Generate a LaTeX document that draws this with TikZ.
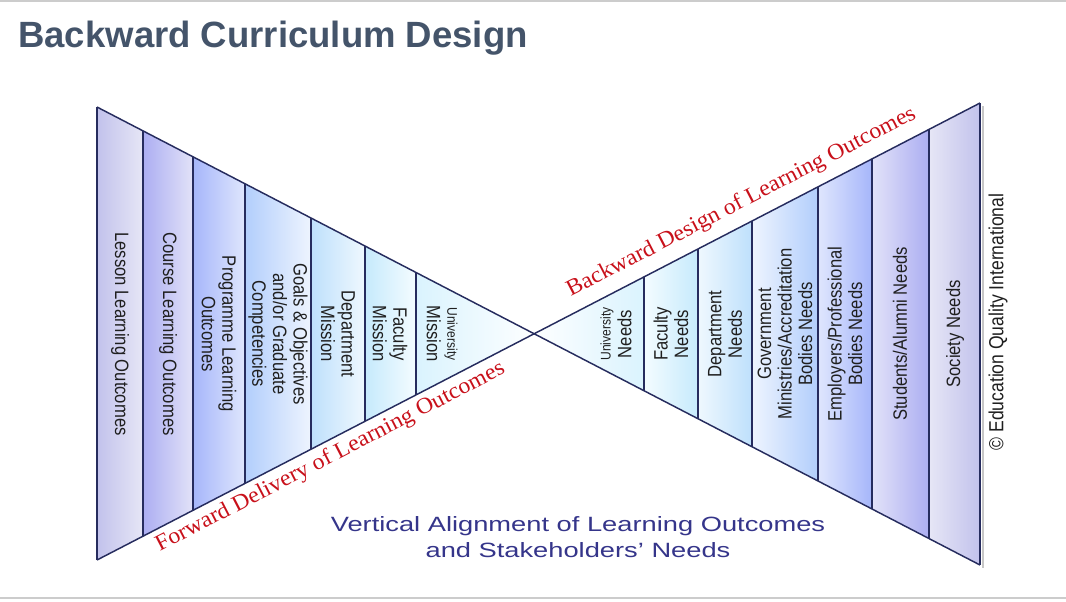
\documentclass[tikz,border=0pt]{standalone}
\usepackage{fontspec}
\setmainfont{Liberation Sans}
\newfontfamily\bandfont[FakeStretch=0.86]{Liberation Sans}
\newfontfamily\widefont[FakeStretch=1.32]{Liberation Sans}
\newfontfamily\redserif[FakeStretch=1.05]{Liberation Serif}
\usepackage{tikz}

\definecolor{navyline}{HTML}{262C5E}
\definecolor{titlegray}{HTML}{44546A}
\definecolor{redlabel}{HTML}{C8101A}
\definecolor{captionblue}{HTML}{35358A}
\definecolor{lesD}{HTML}{C2C2EC}\definecolor{lesL}{HTML}{E6E6F6}
\definecolor{crsD}{HTML}{ACAEF2}\definecolor{crsL}{HTML}{E2E2F8}
\definecolor{prgD}{HTML}{A6B6FA}\definecolor{prgL}{HTML}{DFE6FD}
\definecolor{golD}{HTML}{B2CEFC}\definecolor{golL}{HTML}{EEF4FE}
\definecolor{depD}{HTML}{BEE0FC}\definecolor{depL}{HTML}{EFF8FE}
\definecolor{facD}{HTML}{C6EAFC}\definecolor{facL}{HTML}{F4FCFF}
\definecolor{uniD}{HTML}{DAF3FE}\definecolor{uniL}{HTML}{FFFFFF}

\tikzset{
  edge/.style={draw=navyline, line width=1.1pt},
  sep/.style={draw=navyline, line width=1.5pt},
  lbl/.style={font=\bandfont\fontsize{14.5}{15.4}\selectfont, text=black!88, align=center, inner sep=0pt},
  lbll/.style={lbl, rotate=-90},
  lblr/.style={lbl, rotate=90},
  redlbl/.style={font=\redserif\fontsize{17}{20}\selectfont, text=redlabel, sloped, inner sep=2pt}
}

\begin{document}
\begin{tikzpicture}[x=0.75pt, y=-0.75pt]
  \useasboundingbox (0,0) rectangle (1066,601);
  \draw[gray!40, line width=1pt] (0,1) -- (1066,1);
  \draw[gray!40, line width=0.8pt] (0,598) -- (1066,598);

  \node[anchor=base west, inner sep=0pt, font=\bfseries\fontsize{27.4}{32}\selectfont, text=titlegray] (title) at (18,47) {Backward Curriculum Design};

  \coordinate (ltop) at (97,107);
  \coordinate (lbot) at (97,560);
  \coordinate (rtop) at (980,103);
  \coordinate (rbot) at (980,565);
  \coordinate (cross) at (intersection of ltop--rbot and lbot--rtop);

  % shadow of the right edge
  \draw[black!22, line width=2.2pt] (983,106) -- (983,568);

  % learning outcomes side
  \begin{scope}
    \clip (ltop) -- (cross) -- (lbot) -- cycle;
    \foreach \xa/\xb/\ca/\cb in {97/143/lesD/lesL, 143/193/crsD/crsL, 193/245/prgD/prgL, 245/311/golD/golL, 311/365/depD/depL, 365/416/facD/facL, 416/540/uniD/uniL}
      \shade[left color=\ca, right color=\cb] (\xa,100) rectangle (\xb,570);
    \foreach \xs in {143,193,245,311,365,416}
      \draw[sep] (\xs,100) -- (\xs,570);
  \end{scope}

  % stakeholders side
  \begin{scope}
    \clip (rtop) -- (cross) -- (rbot) -- cycle;
    \foreach \xa/\xb/\ca/\cb in {530/644/uniL/uniD, 644/698/facL/facD, 698/752/depL/depD, 752/818/golL/golD, 818/872/prgL/prgD, 872/929/crsL/crsD, 929/980/lesL/lesD}
      \shade[left color=\ca, right color=\cb] (\xa,95) rectangle (\xb,575);
    \foreach \xs in {644,698,752,818,872,929}
      \draw[sep] (\xs,95) -- (\xs,575);
  \end{scope}

  \draw[sep] (ltop) -- (lbot);
  \draw[sep] (rtop) -- (rbot);
  \draw[edge] (ltop) -- (rbot);
  \draw[edge] (lbot)
    -- node[redlbl, below=1.7pt, pos=0.256] (fwd) {Forward Delivery of Learning Outcomes}
       node[redlbl, above=5.6pt, pos=0.741] (bwd) {Backward Design of Learning Outcomes}
    (rtop);

  \node[lbll] (lesson) at (120,334) {Lesson Learning Outcomes};
  \node[lbll] (course) at (168,334) {Course Learning Outcomes};
  \node[lbll] (prog) at (219,334) {Programme Learning\\Outcomes};
  \node[lbll] (goals) at (278,334) {Goals \& Objectives\\and/or Graduate\\Competencies};
  \node[lbll] (deptm) at (338,334) {Department\\Mission};
  \node[lbll] (facm) at (390,334) {Faculty\\Mission};
  \node[lbll] (unim) at (442,334) {{\fontsize{10.5}{11}\selectfont University}\\Mission};

  \node[lblr] (unin) at (616,334) {{\fontsize{10.5}{11}\selectfont University}\\Needs};
  \node[lblr] (facn) at (671,334) {Faculty\\Needs};
  \node[lblr] (deptn) at (725,334) {Department\\Needs};
  \node[lblr] (govn) at (785,334) {Government\\Ministries/Accreditation\\Bodies Needs};
  \node[lblr] (empn) at (845,334) {Employers/Professional\\Bodies Needs};
  \node[lblr] (stun) at (900,334) {Students/Alumni Needs};
  \node[lblr] (socn) at (955,334) {Society Needs};
  \node[lblr, font=\bandfont\fontsize{15.3}{16}\selectfont] (copyr) at (998,322) {\textcopyright{} Education Quality International};

  \node[font=\widefont\fontsize{15.5}{19.5}\selectfont, text=captionblue, align=center] (caption) at (578,537) {Vertical Alignment of Learning Outcomes\\and Stakeholders’ Needs};
\end{tikzpicture}
\end{document}
